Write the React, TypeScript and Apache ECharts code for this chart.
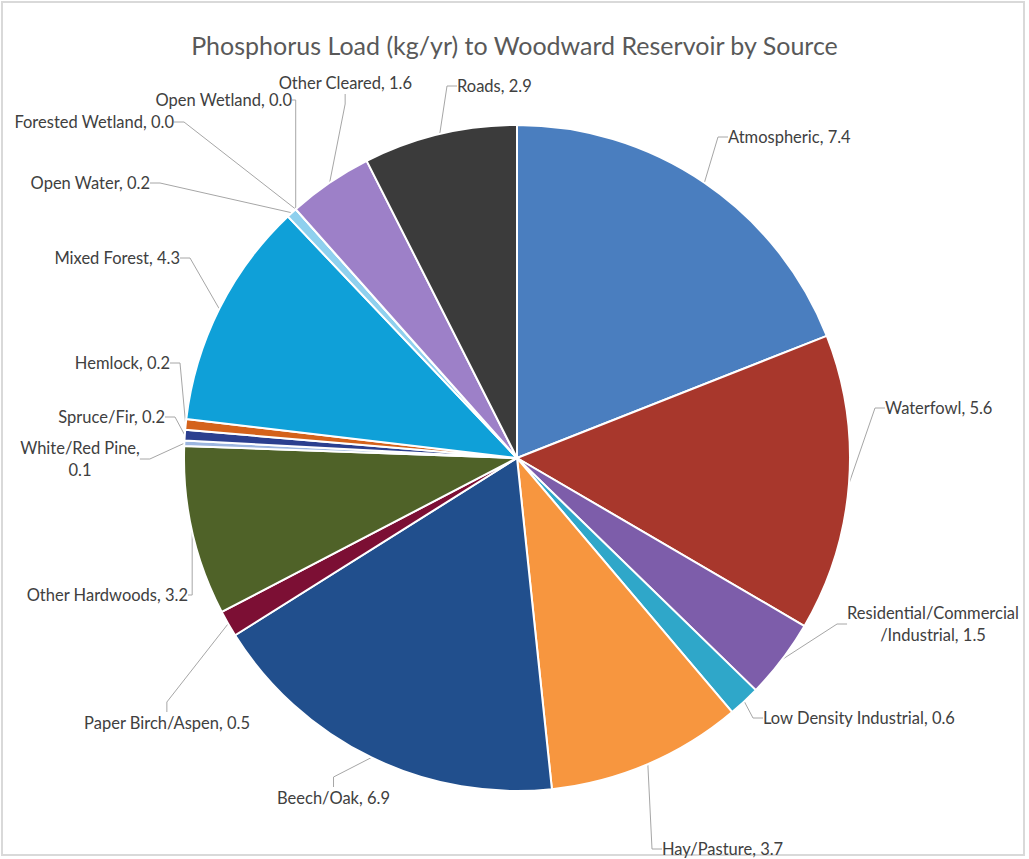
import React, { useEffect, useRef } from "react";
import * as echarts from "echarts";

const titleText = "Phosphorus Load (kg/yr) to Woodward Reservoir by Source";

const categories = [
  "Atmospheric",
  "Waterfowl",
  "Residential/Commercial/Industrial",
  "Low Density Industrial",
  "Hay/Pasture",
  "Beech/Oak",
  "Paper Birch/Aspen",
  "Other Hardwoods",
  "White/Red Pine",
  "Spruce/Fir",
  "Hemlock",
  "Mixed Forest",
  "Open Water",
  "Forested Wetland",
  "Open Wetland",
  "Other Cleared",
  "Roads",
];

const values = [7.4, 5.6, 1.5, 0.6, 3.7, 6.9, 0.5, 3.2, 0.1, 0.2, 0.2, 4.3, 0.2, 0.0, 0.0, 1.6, 2.9];

const colors = [
  "#4a7ebf",
  "#a8372c",
  "#7d5daa",
  "#2fa7c9",
  "#f7963f",
  "#214f8d",
  "#7c0f34",
  "#4f6228",
  "#9cb6e0",
  "#2b3f8f",
  "#d4621b",
  "#0fa0d8",
  "#8fd0ee",
  "#c7d9ee",
  "#d9cce6",
  "#9d80c8",
  "#3b3b3b",
];

// label anchor placement (layout only): [x, y, align]
const labelPlacement: [number, number, string][] = [
  [728, 137, "left"],
  [885, 408, "left"],
  [933, 624, "center"],
  [763, 718, "left"],
  [662, 849, "left"],
  [390, 798, "right"],
  [250, 723, "right"],
  [188, 595, "right"],
  [80, 459, "center"],
  [165, 417, "right"],
  [170, 363, "right"],
  [180, 258, "right"],
  [150, 183, "right"],
  [174, 122, "right"],
  [292, 100, "right"],
  [412, 83, "right"],
  [457, 86, "left"],
];

function labelText(name: string, value: number): string {
  const v = value.toFixed(1);
  if (name === "Residential/Commercial/Industrial") return `Residential/Commercial\n/Industrial, ${v}`;
  if (name === "White/Red Pine") return `${name},\n${v}`;
  return `${name}, ${v}`;
}

export default function App() {
  const ref = useRef<HTMLDivElement>(null);
  useEffect(() => {
    if (!ref.current) return;
    const chart = echarts.init(ref.current, undefined, { renderer: "svg" });
    chart.setOption({
      animation: false,
      backgroundColor: "#ffffff",
      title: {
        text: titleText,
        left: "center",
        top: 27,
        textStyle: {
          fontFamily: "Lato",
          fontSize: 25,
          fontWeight: "normal",
          color: "#595959",
        },
      },
      graphic: [
        {
          type: "rect",
          shape: { x: 2, y: 2, width: 1022, height: 853 },
          style: { fill: "none", stroke: "#d9d9d9", lineWidth: 2 },
          silent: true,
        },
      ],
      series: [
        {
          type: "pie",
          center: [517, 458],
          radius: 333,
          startAngle: 90,
          clockwise: true,
          avoidLabelOverlap: false,
          itemStyle: { borderColor: "#ffffff", borderWidth: 2 },
          label: {
            show: true,
            position: "outside",
            formatter: (p: any) => labelText(p.name, Number(p.value)),
            fontFamily: "Lato",
            fontSize: 16.5,
            color: "#404040",
            lineHeight: 22,
            align: "center",
          },
          labelLine: {
            show: true,
            length: 14,
            length2: 10,
            lineStyle: { color: "#a6a6a6", width: 1 },
          },
          labelLayout: (params: any) => {
            const pl = labelPlacement[params.dataIndex];
            if (!pl) return {};
            return { x: pl[0], y: pl[1], align: pl[2], verticalAlign: "middle" };
          },
          data: categories.map((name, i) => ({
            name,
            value: values[i],
            itemStyle: { color: colors[i] },
          })),
        },
      ],
    });
    return () => chart.dispose();
  }, []);
  return (
    <div
      ref={ref}
      style={{ position: "fixed", left: 0, top: 0, width: 1029, height: 859 }}
    />
  );
}
